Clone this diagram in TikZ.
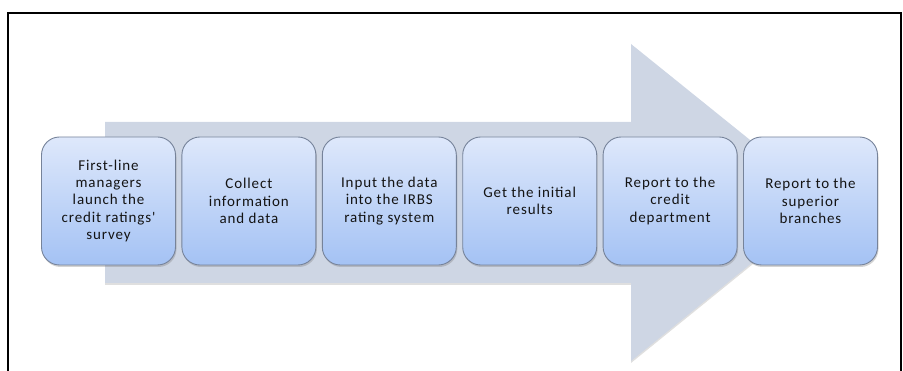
\documentclass[tikz,border=0pt]{standalone}
\usepackage{fontspec}
\newfontfamily\stagefont{Carlito}[LetterSpace=6]
\usetikzlibrary{shapes,arrows,positioning,calc,shadows}
\definecolor{flowgrey}{HTML}{CED6E4}
\definecolor{stagetop}{HTML}{DEE8FB}
\definecolor{stagebot}{HTML}{A4C2F4}
\definecolor{stageedge}{HTML}{76839A}
\tikzset{
stage/.style = {draw=stageedge, line width=0.9pt, rounded corners=18pt, top color=stagetop, bottom color=stagebot,
  minimum width=134pt, minimum height=128pt, align=center, text=black!92,
  font=\stagefont\fontsize{15}{17.25}\selectfont,
  drop shadow={opacity=0.35, shadow xshift=1pt, shadow yshift=-2pt}},
flow/.style = {fill=flowgrey, drop shadow={opacity=0.25, shadow xshift=0pt, shadow yshift=-2pt}},
frame/.style = {line width=2pt, black}
}

\begin{document}
\begin{tikzpicture}[x=1pt, y=-1pt, node distance=140.4pt]
  \useasboundingbox (0,0) rectangle (903,371);
  % frame round the figure
  \draw [frame] (8,372) -- (8,13) -- (901,13) -- (901,372);

  % big arrow behind the stages
  \fill [flow] (105,122) -- (631,122) -- (631,44) -- (827,202)
    -- (631,361) -- (631,283) -- (105,283) -- cycle;

  \node [stage] at (108.5,201)      (launch)  {First-line\\managers\\launch the\\credit ratings'\\survey};
  \node [stage, right of=launch]    (collect) {Collect\\information\\and data};
  \node [stage, right of=collect]   (input)   {Input the data\\into the IRBS\\rating system};
  \node [stage, right of=input]     (results) {Get the initial\\results};
  \node [stage, right of=results]   (credit)  {Report to the\\credit\\department};
  \node [stage, right of=credit]    (superior){Report to the\\superior\\branches};
\end{tikzpicture}
\end{document}
